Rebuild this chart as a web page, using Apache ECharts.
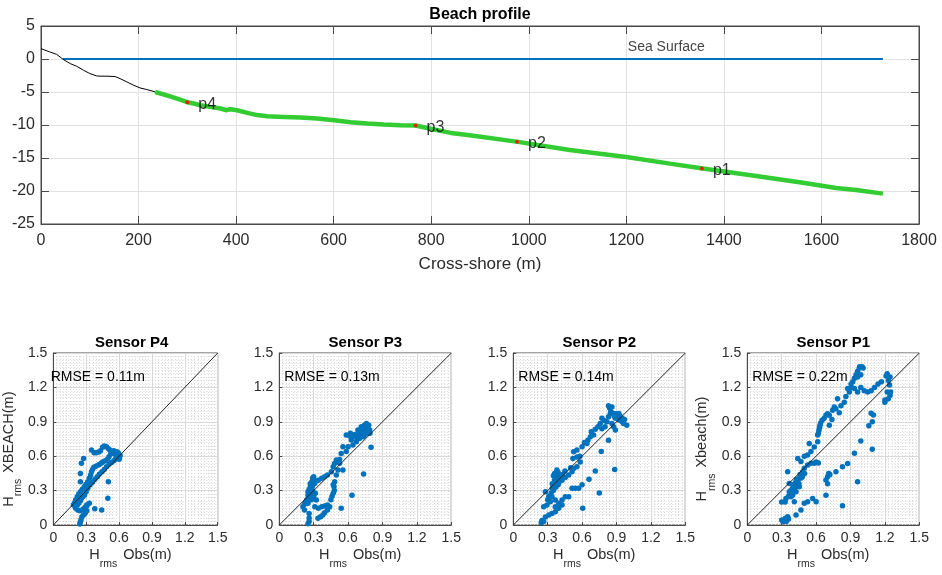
<!DOCTYPE html>
<html><head><meta charset="utf-8">
<script src="https://cdn.jsdelivr.net/npm/echarts@6/dist/echarts.min.js"></script>
<style>html,body{margin:0;padding:0;background:#fff}#c{width:942px;height:575px}</style>
</head><body><div id="c"></div>
<script>
const FONT = '"Liberation Sans", Arial, Helvetica, sans-serif';

// ---------- Beach profile data ----------
const landX = [0, 18, 32, 46, 60, 73, 87, 100, 114, 121, 135, 152, 162, 176, 190, 203, 217, 234];
const landY = [1.57, 1.07, 0.71, -0.09, -0.7, -1.1, -1.7, -2.2, -2.56, -2.6, -2.6, -2.66, -2.97, -3.47, -3.98, -4.38, -4.63, -4.98];
const wetX = [234, 258, 279, 300, 313, 327, 347, 368, 381, 388, 402, 423, 443, 464, 498, 532, 566, 601, 635, 669, 703, 737, 768, 806, 840, 879, 978, 1084, 1200, 1289, 1357, 1459, 1562, 1630, 1671, 1726];
const wetY = [-5, -5.5, -6.0, -6.55, -6.75, -7.0, -7.25, -7.5, -7.76, -7.6, -7.76, -8.16, -8.5, -8.67, -8.77, -8.87, -9.02, -9.27, -9.57, -9.77, -9.93, -10.03, -10.08, -10.68, -11.2, -11.55, -12.56, -13.8, -14.85, -15.85, -16.6, -17.65, -18.76, -19.55, -19.85, -20.4];
const seaX = [45, 1726];
const seaY = [0, 0];
const sensorNames = ['p1', 'p2', 'p3', 'p4'];
const sensorX = [1355, 976, 768, 300];
const sensorY = [-16.6, -12.55, -10.08, -6.55];
const seaLabelText = 'Sea Surface';
const seaLabelPos = [1282, 1.82];

// ---------- Scatter comparison data: [H_rms observed, H_rms XBeach] ----------
const sensorTitles = ['Sensor P4', 'Sensor P3', 'Sensor P2', 'Sensor P1'];
const rmseTexts = ['RMSE = 0.11m', 'RMSE = 0.13m', 'RMSE = 0.14m', 'RMSE = 0.22m'];
const yNames = ['XBEACH(m)', null, null, 'Xbeach(m)'];

const p4Points = [
 [0.348,0.654],[0.372,0.631],[0.392,0.631],[0.415,0.636],[0.43,0.648],[0.45,0.677],[0.465,0.689],[0.485,0.683],[0.502,0.665],[0.517,0.654],[0.532,0.642],[0.546,0.631],[0.561,0.619],[0.575,0.607],[0.59,0.596],[0.601,0.584],
 [0.276,0.581],[0.256,0.538],[0.247,0.45],[0.247,0.378],
 [0.523,0.619],[0.508,0.596],[0.494,0.573],[0.473,0.561],[0.45,0.549],[0.436,0.538],[0.415,0.526],[0.392,0.514],[0.369,0.503],[0.357,0.485],[0.348,0.465],[0.34,0.436],[0.328,0.407],[0.314,0.378],[0.299,0.355],[0.282,0.334],[0.264,0.311],[0.247,0.291],[0.232,0.27],[0.218,0.247],[0.203,0.218],[0.194,0.195],[0.189,0.174],
 [0.595,0.619],[0.581,0.596],[0.566,0.573],[0.552,0.561],[0.532,0.546],[0.508,0.529],[0.485,0.509],[0.465,0.485],[0.444,0.465],[0.421,0.444],[0.401,0.421],[0.378,0.398],[0.357,0.372],[0.334,0.349],[0.314,0.32],[0.299,0.291],[0.285,0.262],[0.27,0.247],[0.256,0.233],[0.247,0.212],[0.232,0.189],[0.218,0.174],
 [0.183,0.174],[0.203,0.145],[0.223,0.131],[0.241,0.125],[0.261,0.131],[0.276,0.142],[0.29,0.154],[0.305,0.166],[0.261,0.073],[0.253,0.049],[0.247,0.029],[0.241,0.009],[0.276,0.087],[0.29,0.102],[0.305,0.125],
 [0.502,0.378],[0.497,0.233],[0.441,0.131],[0.378,0.142],[0.305,0.174],[0.328,0.189],
 [0.552,0.648],[0.566,0.625],[0.595,0.625],[0.581,0.639],[0.61,0.607],[0.601,0.573]
];
const p3Points = [
 [0.25,0.26],[0.26,0.28],[0.27,0.3],[0.27,0.33],[0.28,0.35],[0.28,0.37],[0.29,0.39],[0.29,0.41],[0.3,0.42],[0.26,0.31],[0.27,0.36],[0.28,0.32],[0.29,0.34],[0.3,0.38],[0.3,0.4],[0.25,0.29],[0.26,0.24],[0.28,0.27],[0.29,0.3],[0.3,0.36],[0.24,0.22],[0.23,0.2],[0.22,0.18],
 [0.206,0.16],[0.22,0.13],[0.25,0.19],[0.26,0.1],[0.26,0.06],[0.26,0.03],[0.25,0.01],
 [0.28,0.22],[0.31,0.16],[0.34,0.146],[0.37,0.16],[0.395,0.166],[0.42,0.175],[0.45,0.22],[0.47,0.276],[0.477,0.335],[0.483,0.377],[0.497,0.436],[0.314,0.276],[0.323,0.218],[0.3,0.25],[0.46,0.25],[0.48,0.3],[0.47,0.35],
 [0.337,0.058],[0.36,0.073],[0.38,0.087],[0.395,0.107],[0.42,0.13],[0.44,0.16],
 [0.54,0.145],[0.634,0.26],[0.735,0.445],[0.80,0.677],
 [0.31,0.364],[0.34,0.39],[0.37,0.407],[0.395,0.42],[0.42,0.436],[0.454,0.465],[0.47,0.508],[0.482,0.537],[0.506,0.552],[0.526,0.572],[0.54,0.624],[0.555,0.682],[0.584,0.64],[0.6,0.682],[0.584,0.784],[0.614,0.776],[0.628,0.741],[0.657,0.77],[0.686,0.828],[0.70,0.8],[0.715,0.857],[0.73,0.814],[0.744,0.872],[0.76,0.886],[0.773,0.857],[0.788,0.828],[0.76,0.8],[0.73,0.77],[0.70,0.755],[0.672,0.727],[0.642,0.698],[0.555,0.48],[0.512,0.48],[0.497,0.567],[0.526,0.538],
 [0.75,0.84],[0.77,0.82],[0.78,0.8],[0.76,0.85],[0.72,0.83],[0.74,0.78],[0.78,0.87],[0.79,0.8],[0.71,0.78],[0.68,0.76],[0.66,0.79],[0.62,0.8]
];
const p2Points = [
 [0.244,0.02],[0.25,0.04],[0.265,0.03],[0.28,0.07],[0.31,0.087],[0.337,0.1],[0.366,0.116],
 [0.34,0.32],[0.35,0.34],[0.36,0.36],[0.37,0.38],[0.37,0.4],[0.38,0.42],[0.38,0.44],[0.39,0.46],[0.38,0.48],[0.36,0.45],[0.35,0.43],[0.36,0.39],[0.34,0.36],[0.35,0.3],[0.37,0.33],[0.39,0.35],[0.4,0.38],[0.39,0.41],[0.38,0.36],
 [0.28,0.29],[0.265,0.159],[0.294,0.174],[0.323,0.203],[0.337,0.247],[0.366,0.218],[0.395,0.189],[0.425,0.218],[0.453,0.247],[0.483,0.247],[0.366,0.16],[0.395,0.145],[0.425,0.174],[0.31,0.25],[0.33,0.28],[0.3,0.22],
 [0.512,0.32],[0.54,0.32],[0.57,0.32],[0.6,0.35],[0.605,0.145],[0.66,0.4],[0.715,0.47],[0.75,0.28],[0.884,0.484],[0.767,0.64],[0.83,0.74],
 [0.395,0.363],[0.425,0.39],[0.453,0.415],[0.483,0.435],[0.512,0.464],[0.526,0.493],[0.555,0.507],[0.584,0.55],[0.555,0.594],[0.526,0.638],[0.555,0.653],[0.6,0.682],[0.642,0.711],[0.672,0.769],[0.70,0.784],[0.68,0.813],[0.715,0.834],[0.738,0.856],[0.758,0.886],[0.773,0.93],[0.796,0.91],[0.817,0.9],[0.83,0.944],[0.846,0.973],[0.83,1.04],[0.86,1.03],[0.875,0.973],[0.89,0.93],[0.905,0.958],[0.92,0.915],[0.948,0.9],[0.962,0.886],[0.99,0.87],[0.86,0.886],[0.89,0.828],[0.875,0.856],[0.80,0.856],[0.773,0.84],[0.92,0.973],
 [0.45,0.47],[0.5,0.5],[0.52,0.58],[0.58,0.6],[0.62,0.72],[0.65,0.74],[0.93,0.95],[0.95,0.93],[0.97,0.92],[0.84,1.02],[0.85,0.99],[0.88,0.95],[0.9,0.97],[0.43,0.44],[0.41,0.42]
];
const p1Points = [
 [0.30,0.044],[0.332,0.058],[0.352,0.073],[0.36,0.052],[0.34,0.03],[0.31,0.03],[0.337,0.232],[0.38,0.247],[0.41,0.203],[0.425,0.087],[0.468,0.131],[0.497,0.189],[0.526,0.203],[0.57,0.232],[0.6,0.203],[0.686,0.26],[0.7,0.36],[0.71,0.436],[0.686,0.392],[0.773,0.465],[0.83,0.508],[0.875,0.537],[0.962,0.378],[0.83,0.168],[0.934,0.625],[0.99,0.732],[1.09,0.66],[1.06,0.866],[1.09,0.9],[1.1,0.96],[1.08,0.975],[1.2,1.07],[1.23,1.1],[1.245,1.13],[1.22,1.16],[1.23,1.26],[1.245,1.29],[1.22,1.32],[1.21,1.3],
 [0.366,0.29],[0.395,0.32],[0.425,0.334],[0.44,0.378],[0.453,0.407],[0.468,0.436],[0.483,0.465],[0.497,0.494],[0.526,0.523],[0.555,0.538],[0.584,0.538],[0.425,0.29],[0.395,0.26],[0.366,0.363],[0.453,0.334],[0.352,0.465],[0.44,0.58],[0.468,0.553],[0.497,0.6],[0.526,0.61],[0.555,0.64],[0.54,0.71],[0.584,0.68],[0.614,0.726],[0.6,0.55],[0.62,0.54],[0.4,0.35],[0.41,0.3],[0.43,0.4],[0.46,0.44],[0.47,0.41],[0.48,0.42],[0.5,0.45],[0.45,0.36],[0.42,0.37],[0.33,0.2],[0.36,0.25],[0.3,0.2],[0.38,0.3],
 [0.614,0.784],[0.625,0.826],[0.634,0.87],[0.652,0.913],[0.686,0.957],[0.715,0.957],[0.744,1.0],[0.773,1.014],[0.817,1.04],[0.846,1.07],[0.86,1.12],[0.89,1.16],[0.905,1.2],[0.934,1.19],[0.962,1.16],[0.99,1.2],[1.02,1.17],[1.05,1.16],[1.08,1.17],[1.11,1.2],[1.14,1.23],[1.17,1.25],[0.92,1.25],[0.934,1.28],[0.948,1.31],[0.962,1.34],[0.977,1.37],[1.0,1.38],[0.99,1.31],[0.962,1.29],[0.905,1.23],[0.875,1.19],[0.787,1.1],[0.758,1.03],[0.802,0.98],[0.738,0.92],[0.715,0.87],[0.62,0.8],[0.63,0.85],[0.64,0.89],[0.67,0.93],[0.7,0.97],[0.98,1.38],[1.01,1.37],[1.24,1.22],[1.25,1.16],[1.2,1.09],[0.71,0.45],[0.7,0.42],[0.72,0.44]
];
const scatterSets = [p4Points, p3Points, p2Points, p1Points];
const oneToOne = [[0, 0], [1.5, 1.5]];

// ---------- layout ----------
const chart = echarts.init(document.getElementById('c'), null, {renderer: 'canvas'});
const AX = '#4a4a4a', TXT = '#2b2b2b', GRIDC = '#e2e2e2';
const scatterLefts = [45.7, 279.3, 513.3, 747.3];
const SQ = 172, STOP = 353;

const grids = [{left: 41, top: 26, width: 878, height: 198}];
scatterLefts.forEach(l => grids.push({left: l, top: STOP, width: SQ, height: SQ}));
grids.forEach(g => { g.show = true; g.borderColor = AX; g.borderWidth = 1; g.backgroundColor = '#fff'; });

const richName = {
  m: {fontSize: 14.5, lineHeight: 14, verticalAlign: 'top', color: TXT, fontFamily: FONT},
  s: {fontSize: 10.5, lineHeight: 10, verticalAlign: 'bottom', color: TXT, fontFamily: FONT},
  g: {width: 6, lineHeight: 14},
  p: {fontSize: 1, lineHeight: 23}
};

const xAxis = [], yAxis = [], series = [], graphic = [];
const plain = v => String(v);
// top chart axes
xAxis.push({type: 'value', gridIndex: 0, min: 0, max: 1800, interval: 200, position: 'bottom',
  axisLine: {show: true, onZero: false, lineStyle: {color: AX}},
  axisTick: {show: true, inside: true, length: 8, lineStyle: {color: AX}},
  axisLabel: {color: TXT, fontSize: 16, fontFamily: FONT, margin: 9, formatter: plain},
  splitLine: {show: true, lineStyle: {color: GRIDC}},
  name: 'Cross-shore (m)', nameLocation: 'middle', nameGap: 32,
  nameTextStyle: {fontSize: 17, color: TXT, fontFamily: FONT}});
xAxis.push({type: 'value', gridIndex: 0, min: 0, max: 1800, interval: 200, position: 'top',
  axisLine: {show: true, onZero: false, lineStyle: {color: AX}},
  axisTick: {show: true, inside: true, length: 8, lineStyle: {color: AX}},
  axisLabel: {show: false}, splitLine: {show: false}});
yAxis.push({type: 'value', gridIndex: 0, min: -25, max: 5, interval: 5, position: 'left',
  axisLine: {show: true, onZero: false, lineStyle: {color: AX}},
  axisTick: {show: true, inside: true, length: 8, lineStyle: {color: AX}},
  axisLabel: {color: TXT, fontSize: 16, fontFamily: FONT, margin: 6, formatter: plain},
  splitLine: {show: true, lineStyle: {color: GRIDC}}});
yAxis.push({type: 'value', gridIndex: 0, min: -25, max: 5, interval: 5, position: 'right',
  axisLine: {show: true, onZero: false, lineStyle: {color: AX}},
  axisTick: {show: true, inside: true, length: 8, lineStyle: {color: AX}},
  axisLabel: {show: false}, splitLine: {show: false}});

const fmt = v => (v === 0 ? '0' : v.toFixed(1));
for (let i = 0; i < 4; i++) {
  const common = {type: 'value', gridIndex: i + 1, min: 0, max: 1.5, interval: 0.3,
    axisLine: {show: true, onZero: false, lineStyle: {color: AX}},
    axisTick: {show: true, inside: true, length: 3, lineStyle: {color: AX}},
    axisLabel: {color: TXT, fontSize: 14, fontFamily: FONT, formatter: fmt},
    splitLine: {show: true, lineStyle: {color: '#d9d9d9'}},
    minorTick: {show: false, splitNumber: 10},
    minorSplitLine: {show: true, lineStyle: {color: '#d9d9d9', type: [1, 2], width: 1}}};
  xAxis.push(Object.assign({}, common, {position: 'bottom',
    axisLabel: Object.assign({}, common.axisLabel, {margin: 6}),
    name: '{m|H}{s|rms}{g|}{m|Obs(m)}{p| }', nameLocation: 'middle', nameGap: 22,
    nameTextStyle: {rich: richName, padding: [0, 10, 0, 0]}}));
  const ya = Object.assign({}, common, {position: 'left',
    axisLabel: Object.assign({}, common.axisLabel, {margin: 6})});
  if (yNames[i]) {
    ya.name = '{m|H}{s|rms}{g|}{m|' + yNames[i] + '}{p| }';
    ya.nameLocation = 'middle';
    ya.nameGap = i === 3 ? 24 : 26;
    ya.nameTextStyle = {rich: richName, padding: [0, 20, 0, 0]};
  }
  yAxis.push(ya);
}

// top chart series
series.push({type: 'line', xAxisIndex: 0, yAxisIndex: 0, data: seaX.map((x, i) => [x, seaY[i]]),
  symbol: 'none', lineStyle: {color: '#0072BD', width: 2}, z: 2, silent: true});
series.push({type: 'line', xAxisIndex: 0, yAxisIndex: 0, data: landX.map((x, i) => [x, landY[i]]),
  symbol: 'none', lineStyle: {color: '#000', width: 1}, z: 3, silent: true});
series.push({type: 'line', xAxisIndex: 0, yAxisIndex: 0, data: wetX.map((x, i) => [x, wetY[i]]),
  symbol: 'none', lineStyle: {color: '#33cc33', width: 4.5}, z: 3, silent: true});
series.push({type: 'scatter', xAxisIndex: 0, yAxisIndex: 0, data: sensorX.map((x, i) => [x, sensorY[i]]),
  symbolSize: 4, itemStyle: {color: '#ff0000'}, z: 5,
  label: {show: true, position: 'right', distance: 9, formatter: p => sensorNames[p.dataIndex],
    fontSize: 16, color: '#000', fontFamily: FONT, offset: [0, 2]}});
series.push({type: 'scatter', xAxisIndex: 0, yAxisIndex: 0, data: [seaLabelPos], symbolSize: 0, z: 5,
  label: {show: true, position: 'inside', formatter: seaLabelText, fontSize: 14, color: '#111', fontFamily: FONT}});

graphic.push({type: 'text', x: 480, y: 15, style: {text: 'Beach profile', font: 'bold 16px ' + FONT,
  fill: '#000', textAlign: 'center', textVerticalAlign: 'middle'}});

for (let i = 0; i < 4; i++) {
  series.push({type: 'scatter', xAxisIndex: i + 2, yAxisIndex: i + 2, data: scatterSets[i],
    symbolSize: 5.5, itemStyle: {color: '#0072BD', opacity: 1}, z: 3});
  series.push({type: 'line', xAxisIndex: i + 2, yAxisIndex: i + 2, data: oneToOne, symbol: 'none',
    lineStyle: {color: '#222', width: 1}, z: 4, silent: true});
  graphic.push({type: 'text', x: scatterLefts[i] + SQ / 2, y: 343, style: {text: sensorTitles[i],
    font: 'bold 15px ' + FONT, fill: '#000', textAlign: 'center', textVerticalAlign: 'middle'}});
  graphic.push({type: 'text', x: scatterLefts[i] + 5, y: 377, z: 10, style: {text: rmseTexts[i],
    font: '14px ' + FONT, fill: '#000', textAlign: 'left', textVerticalAlign: 'middle'}});
}

chart.setOption({animation: false, backgroundColor: '#fff', grid: grids, xAxis, yAxis, series, graphic});
</script></body></html>
